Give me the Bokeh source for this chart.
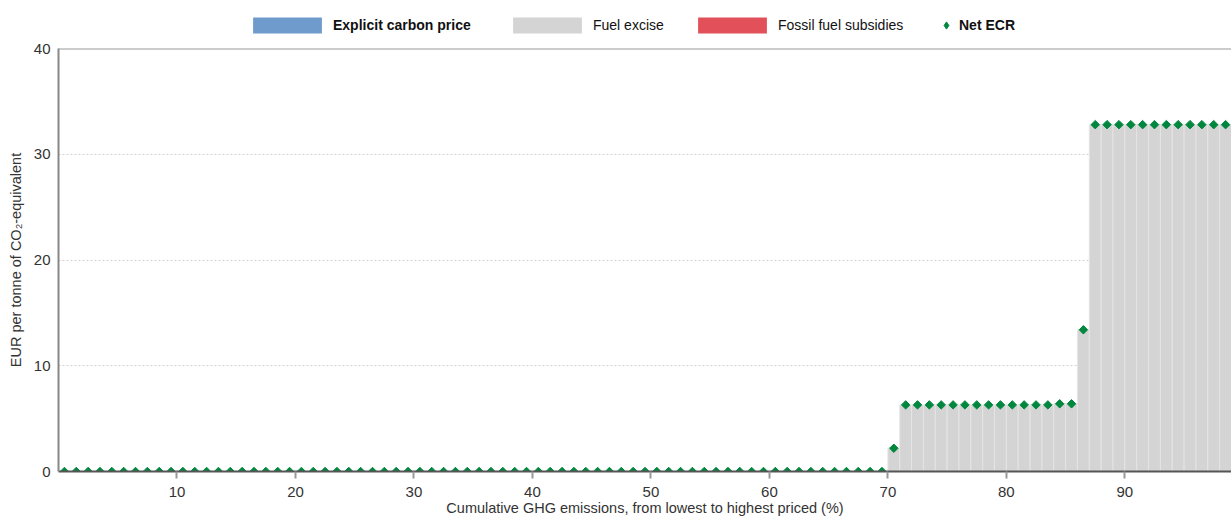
from bokeh.plotting import figure
from bokeh.models import Legend, LegendItem, Range1d, FixedTicker, Span, ColumnDataSource
from bokeh.layouts import column
from bokeh.embed import file_html
from bokeh.resources import INLINE
import numpy as np

# Cumulative GHG emissions (%), bucket mid-points
cum_emissions = [
    0.5, 1.5, 2.5, 3.5, 4.5, 5.5, 6.5, 7.5, 8.5, 9.5,
    10.5, 11.5, 12.5, 13.5, 14.5, 15.5, 16.5, 17.5, 18.5, 19.5,
    20.5, 21.5, 22.5, 23.5, 24.5, 25.5, 26.5, 27.5, 28.5, 29.5,
    30.5, 31.5, 32.5, 33.5, 34.5, 35.5, 36.5, 37.5, 38.5, 39.5,
    40.5, 41.5, 42.5, 43.5, 44.5, 45.5, 46.5, 47.5, 48.5, 49.5,
    50.5, 51.5, 52.5, 53.5, 54.5, 55.5, 56.5, 57.5, 58.5, 59.5,
    60.5, 61.5, 62.5, 63.5, 64.5, 65.5, 66.5, 67.5, 68.5, 69.5,
    70.5, 71.5, 72.5, 73.5, 74.5, 75.5, 76.5, 77.5, 78.5, 79.5,
    80.5, 81.5, 82.5, 83.5, 84.5, 85.5, 86.5, 87.5, 88.5, 89.5,
    90.5, 91.5, 92.5, 93.5, 94.5, 95.5, 96.5, 97.5, 98.5, 99.5,
]
explicit_carbon_price = [
    0, 0, 0, 0, 0, 0, 0, 0, 0, 0,
    0, 0, 0, 0, 0, 0, 0, 0, 0, 0,
    0, 0, 0, 0, 0, 0, 0, 0, 0, 0,
    0, 0, 0, 0, 0, 0, 0, 0, 0, 0,
    0, 0, 0, 0, 0, 0, 0, 0, 0, 0,
    0, 0, 0, 0, 0, 0, 0, 0, 0, 0,
    0, 0, 0, 0, 0, 0, 0, 0, 0, 0,
    0, 0, 0, 0, 0, 0, 0, 0, 0, 0,
    0, 0, 0, 0, 0, 0, 0, 0, 0, 0,
    0, 0, 0, 0, 0, 0, 0, 0, 0, 0,
]
fuel_excise = [
    0, 0, 0, 0, 0, 0, 0, 0, 0, 0,
    0, 0, 0, 0, 0, 0, 0, 0, 0, 0,
    0, 0, 0, 0, 0, 0, 0, 0, 0, 0,
    0, 0, 0, 0, 0, 0, 0, 0, 0, 0,
    0, 0, 0, 0, 0, 0, 0, 0, 0, 0,
    0, 0, 0, 0, 0, 0, 0, 0, 0, 0,
    0, 0, 0, 0, 0, 0, 0, 0, 0, 0,
    2.2, 6.3, 6.3, 6.3, 6.3, 6.3, 6.3, 6.3, 6.3, 6.3,
    6.3, 6.3, 6.3, 6.3, 6.4, 6.4, 13.4, 32.8, 32.8, 32.8,
    32.8, 32.8, 32.8, 32.8, 32.8, 32.8, 32.8, 32.8, 32.8, 32.8,
]
fossil_fuel_subsidies = [
    0, 0, 0, 0, 0, 0, 0, 0, 0, 0,
    0, 0, 0, 0, 0, 0, 0, 0, 0, 0,
    0, 0, 0, 0, 0, 0, 0, 0, 0, 0,
    0, 0, 0, 0, 0, 0, 0, 0, 0, 0,
    0, 0, 0, 0, 0, 0, 0, 0, 0, 0,
    0, 0, 0, 0, 0, 0, 0, 0, 0, 0,
    0, 0, 0, 0, 0, 0, 0, 0, 0, 0,
    0, 0, 0, 0, 0, 0, 0, 0, 0, 0,
    0, 0, 0, 0, 0, 0, 0, 0, 0, 0,
    0, 0, 0, 0, 0, 0, 0, 0, 0, 0,
]
x_ticks = [10, 20, 30, 40, 50, 60, 70, 80, 90]
y_ticks = [0, 10, 20, 30, 40]

FONT = "Liberation Sans"
C_EXPLICIT = "#6f9bcc"
C_EXCISE = "#d4d4d4"
C_SUBS = "#e2505a"
C_NET = "#00873e"

exp_arr = np.array(explicit_carbon_price, dtype=float)
exc_arr = np.array(fuel_excise, dtype=float)
sub_arr = np.array(fossil_fuel_subsidies, dtype=float)
net_ecr = exp_arr + exc_arr - sub_arr

src = ColumnDataSource(dict(
    x=cum_emissions,
    explicit=explicit_carbon_price,
    excise=fuel_excise,
    subs_top=list(-sub_arr),
    net=list(net_ecr),
))

p = figure(width=1231, height=481, output_backend="svg", toolbar_location=None,
           x_range=Range1d(0, 99.0), y_range=Range1d(0, 40),
           min_border_left=58, min_border_right=0, min_border_top=10, min_border_bottom=48)
p.outline_line_color = None
p.background_fill_color = "white"

p.vbar_stack(["explicit", "excise"], x="x", width=1.0, source=src,
             fill_color=[C_EXPLICIT, C_EXCISE], line_color=["#ffffff00", "#e4e4e4"], line_width=1)
p.vbar(x="x", top="subs_top", bottom=0, width=1.0, source=src, fill_color=C_SUBS, line_color=None)
p.scatter(x="x", y="net", source=src, marker="square", angle=np.pi / 4, size=6,
          fill_color=C_NET, line_color=C_NET)

p.add_layout(Span(location=40, dimension="width", line_color="#9a9a9a", line_width=2))

p.xgrid.visible = False
p.ygrid.ticker = FixedTicker(ticks=[10, 20, 30])
p.ygrid.grid_line_color = "#d0d0d0"
p.ygrid.grid_line_dash = "2 2"
p.ygrid.grid_line_width = 1

xa = p.xaxis[0]
xa.ticker = FixedTicker(ticks=x_ticks)
xa.axis_label = "Cumulative GHG emissions, from lowest to highest priced (%)"
xa.axis_label_text_font = FONT
xa.axis_label_text_font_size = "14.5px"
xa.axis_label_text_font_style = "normal"
xa.axis_label_text_color = "#333333"
xa.axis_label_standoff = 0
xa.major_label_text_font = FONT
xa.major_label_text_font_size = "15px"
xa.major_label_text_color = "#333333"
xa.major_label_standoff = 8
xa.major_tick_out = 7
xa.major_tick_in = 0
xa.major_tick_line_color = "#999999"
xa.major_tick_line_width = 2
xa.minor_tick_out = 0
xa.minor_tick_in = 0
xa.axis_line_color = "#555555"
xa.axis_line_width = 2

ya = p.yaxis[0]
ya.ticker = FixedTicker(ticks=y_ticks)
ya.axis_label = "EUR per tonne of CO₂-equivalent"
ya.axis_label_text_font = FONT
ya.axis_label_text_font_size = "14.5px"
ya.axis_label_text_font_style = "normal"
ya.axis_label_text_color = "#333333"
ya.axis_label_standoff = 7
ya.major_label_text_font = FONT
ya.major_label_text_font_size = "15px"
ya.major_label_text_color = "#333333"
ya.major_label_standoff = 8
ya.major_tick_out = 0
ya.major_tick_in = 0
ya.minor_tick_out = 0
ya.minor_tick_in = 0
ya.axis_line_color = "#888888"
ya.axis_line_width = 2

# Legend strip above the chart (its frame is aligned with the chart frame)
lg = figure(width=1231, height=38, output_backend="svg", toolbar_location=None,
            x_range=Range1d(0, 1), y_range=Range1d(0, 1),
            x_axis_location=None, y_axis_location=None,
            min_border_left=0, min_border_right=0, min_border_top=0, min_border_bottom=0)
lg.outline_line_color = None
lg.xgrid.visible = False
lg.ygrid.visible = False

# swatch renderers: a single point placed outside the visible range
swatch = ColumnDataSource(dict(x=[5.0], top=[5.0], y=[5.0]))
r_exp = lg.vbar(x="x", top="top", width=1, source=swatch, fill_color=C_EXPLICIT, line_color=None)
r_exc = lg.vbar(x="x", top="top", width=1, source=swatch, fill_color=C_EXCISE, line_color=None)
r_sub = lg.vbar(x="x", top="top", width=1, source=swatch, fill_color=C_SUBS, line_color=None)
r_net = lg.scatter(x="x", y="y", source=swatch, marker="diamond", size=6,
                   fill_color=C_NET, line_color=C_NET)

def make_legend(label, renderer, loc, style, gw, gh, standoff):
    leg = Legend(items=[LegendItem(label=label, renderers=[renderer])], location=loc,
                 orientation="horizontal", glyph_width=gw, glyph_height=gh,
                 label_height=16, label_standoff=standoff, padding=0, margin=0,
                 spacing=0, border_line_color=None, background_fill_alpha=0,
                 label_text_font=FONT, label_text_font_size="14px",
                 label_text_font_style=style, label_text_color="#111111")
    lg.add_layout(leg)

make_legend("Explicit carbon price", r_exp, (186, 3), "bold", 86, 20, 3)
make_legend("Fuel excise", r_exc, (446, 3), "normal", 86, 20, 3)
make_legend("Fossil fuel subsidies", r_sub, (631, 3), "normal", 86, 20, 3)
make_legend("Net ECR", r_net, (879, 4), "bold", 18, 18, 4)

layout = column(lg, p, spacing=0)
open("out.html", "w").write(file_html(layout, INLINE))
